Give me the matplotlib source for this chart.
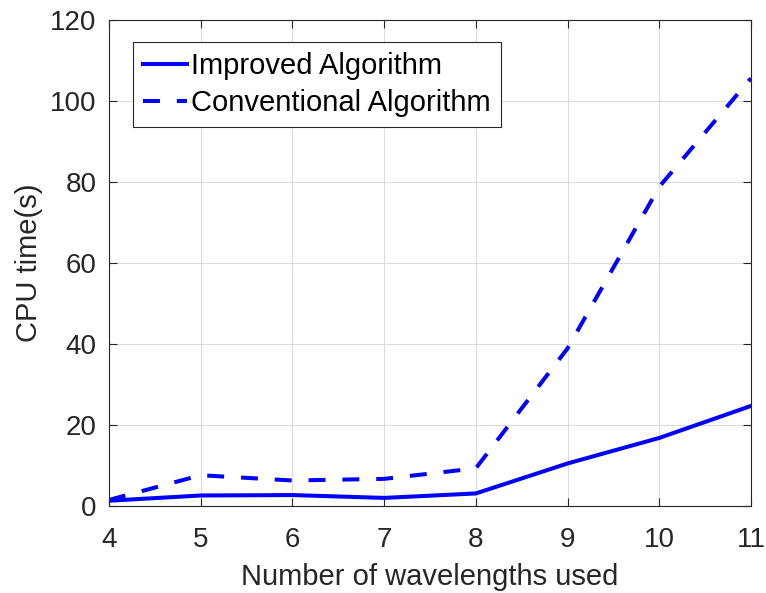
import matplotlib
matplotlib.use("Agg")
import matplotlib.pyplot as plt

wavelengths = [4, 5, 6, 7, 8, 9, 10, 11]
improved = [1.3, 2.6, 2.7, 2.0, 3.1, 10.5, 16.8, 24.7]
conventional = [1.5, 7.6, 6.3, 6.7, 9.3, 38.9, 78.8, 105.6]

plt.rcParams['font.family'] = ['Liberation Sans', 'DejaVu Sans']

fig = plt.figure(figsize=(7.66, 5.93), dpi=100)
ax = fig.add_axes([0.1423, 0.1467, 0.838, 0.8196])

ax.plot(wavelengths, improved, color='#0000ff', lw=2.9, label='Improved Algorithm')
ax.plot(wavelengths, conventional, color='#0000ff', lw=2.9, ls=(0, (4.2, 4.2)), label='Conventional Algorithm')

ax.set_xlim(4, 11)
ax.set_ylim(0, 120)
ax.set_xticks(wavelengths)
ax.set_yticks([0, 20, 40, 60, 80, 100, 120])
ax.grid(True, color='#dcdcdc', lw=0.8)
ax.set_axisbelow(True)
ax.tick_params(direction='in', top=True, right=True, labelsize=20, colors='#262626', length=6)
ax.tick_params(axis='x', pad=15)
ax.tick_params(axis='y', pad=9)
for s in ax.spines.values():
    s.set_color('#262626')
    s.set_linewidth(0.8)

ax.set_xlabel('Number of wavelengths used', fontsize=21, color='#262626', labelpad=7)
ax.set_ylabel('CPU time(s)', fontsize=21, color='#262626', labelpad=5)

leg = ax.legend(loc='upper left', bbox_to_anchor=(0.037, 0.955), fontsize=21, handlelength=1.5,
                handletextpad=0.15, borderpad=0.35, labelspacing=0.3, fancybox=False,
                framealpha=1, borderaxespad=0)
leg.get_frame().set_edgecolor('#262626')
leg.get_frame().set_linewidth(0.8)
for t in leg.get_texts():
    t.set_color('black')

fig.savefig('out.png', dpi=100)
